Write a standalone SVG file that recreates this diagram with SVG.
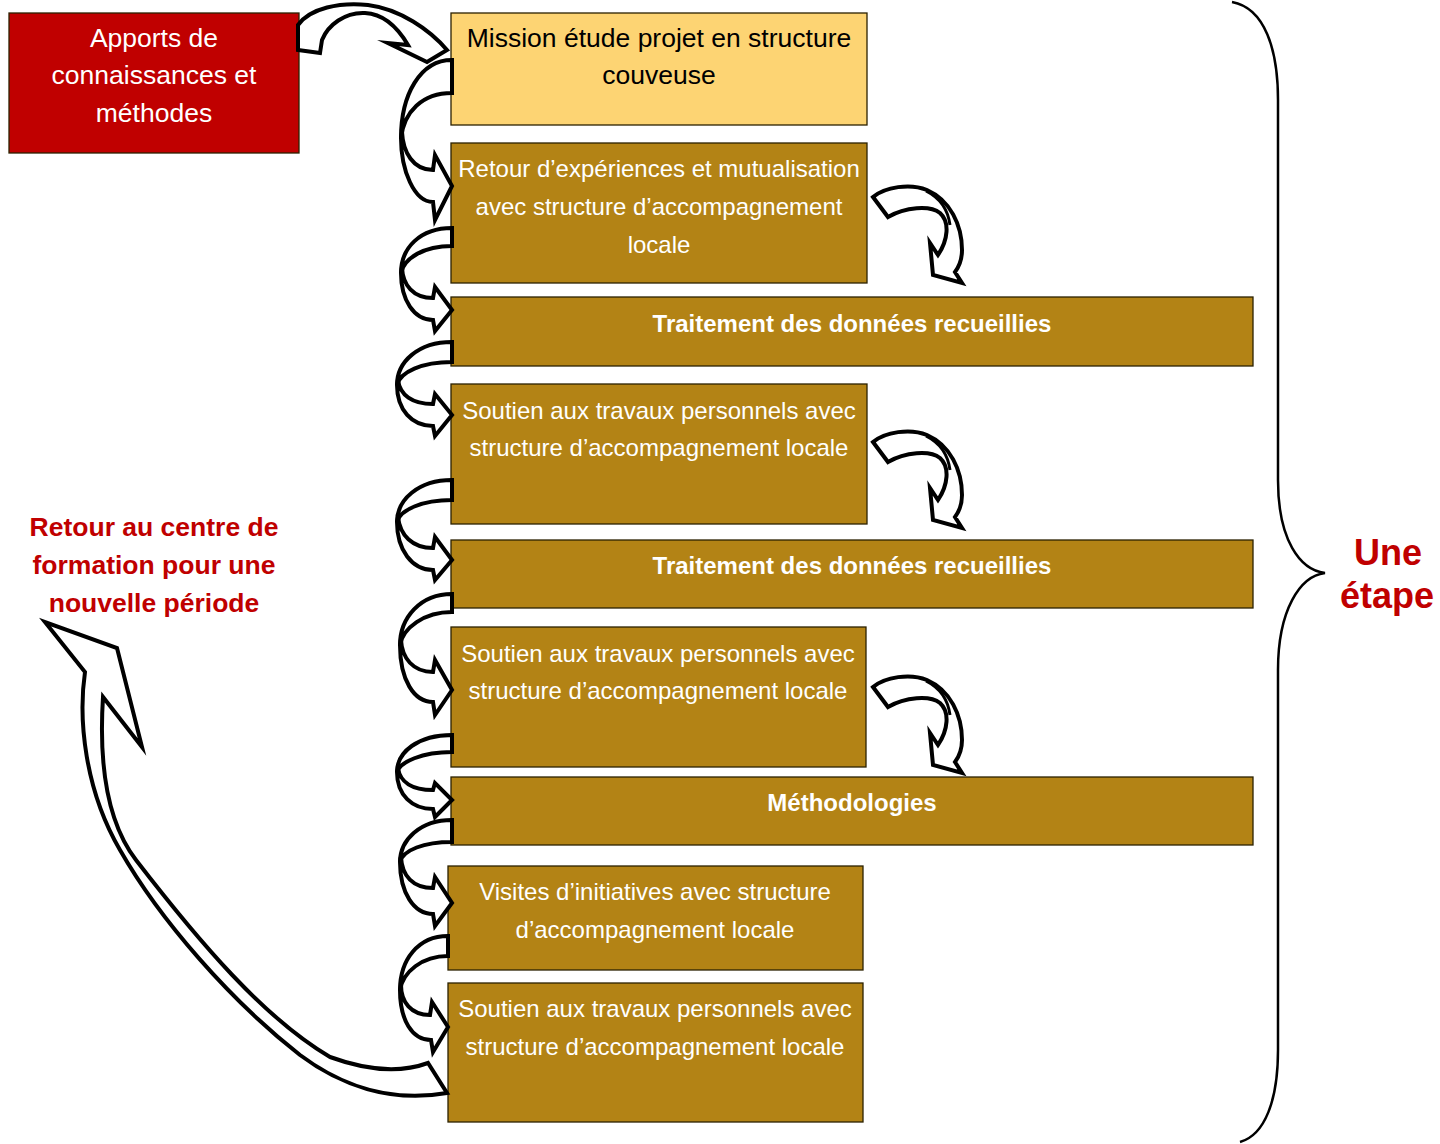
<svg xmlns="http://www.w3.org/2000/svg" width="1440" height="1144" viewBox="0 0 1440 1144">
<style>
.box{stroke:#2b2100;stroke-width:1.3}
.red{fill:#C00000}
.light{fill:#FDD473}
.gold{fill:#B38315}
.t{font-family:"Liberation Sans",Arial,sans-serif;text-anchor:middle}
.w{fill:#ffffff;font-size:24px}
.big{font-size:26.5px}
.b{font-weight:bold}
.k{fill:#000000}
.rt{fill:#C00000;font-weight:bold}
.arr path{fill:#ffffff;stroke:#000000;stroke-width:4;stroke-linejoin:miter;stroke-miterlimit:6}
.ln{fill:none;stroke:#000000;stroke-width:3}
</style>
<rect width="1440" height="1144" fill="#ffffff"/>

<g id="apports">
<rect class="box red" x="9" y="13" width="290" height="140"/>
<text class="t w big" x="154" y="46.5">Apports de</text>
<text class="t w big" x="154" y="83.5">connaissances et</text>
<text class="t w big" x="154" y="121.5">méthodes</text>
</g>
<g id="mission">
<rect class="box light" x="451" y="13" width="416" height="112"/>
<text class="t k big" x="659" y="46.5">Mission étude projet en structure</text>
<text class="t k big" x="659" y="83.5">couveuse</text>
</g>
<g id="retour">
<rect class="box gold" x="451" y="143" width="416" height="140"/>
<text class="t w" x="659" y="176.5">Retour d’expériences et mutualisation</text>
<text class="t w" x="659" y="214.5">avec structure d’accompagnement</text>
<text class="t w" x="659" y="252.5">locale</text>
</g>
<g id="traitement1">
<rect class="box gold" x="451" y="297" width="802" height="69"/>
<text class="t w b" x="852" y="331.5">Traitement des données recueillies</text>
</g>
<g id="soutien1">
<rect class="box gold" x="451" y="384" width="416" height="140"/>
<text class="t w" x="659" y="418.5">Soutien aux travaux personnels avec</text>
<text class="t w" x="659" y="455.5">structure d’accompagnement locale</text>
</g>
<g id="traitement2">
<rect class="box gold" x="451" y="540" width="802" height="68"/>
<text class="t w b" x="852" y="573.5">Traitement des données recueillies</text>
</g>
<g id="soutien2">
<rect class="box gold" x="451" y="627" width="415" height="140"/>
<text class="t w" x="658" y="661.5">Soutien aux travaux personnels avec</text>
<text class="t w" x="658" y="698.5">structure d’accompagnement locale</text>
</g>
<g id="methodologies">
<rect class="box gold" x="451" y="777" width="802" height="68"/>
<text class="t w b" x="852" y="810.5">Méthodologies</text>
</g>
<g id="visites">
<rect class="box gold" x="448" y="866" width="415" height="104"/>
<text class="t w" x="655" y="899.5">Visites d’initiatives avec structure</text>
<text class="t w" x="655" y="937.5">d’accompagnement locale</text>
</g>
<g id="soutien3">
<rect class="box gold" x="448" y="983" width="415" height="139"/>
<text class="t w" x="655" y="1016.5">Soutien aux travaux personnels avec</text>
<text class="t w" x="655" y="1054.5">structure d’accompagnement locale</text>
</g>

<g id="retour-label">
<text class="t rt big" x="154" y="535.5">Retour au centre de</text>
<text class="t rt big" x="154" y="573.5">formation pour une</text>
<text class="t rt big" x="154" y="611.5">nouvelle période</text>
</g>
<g id="etape-label">
<text class="t rt" style="font-size:36px" x="1388" y="565">Une</text>
<text class="t rt" style="font-size:36px" x="1387" y="608">étape</text>
</g>

<g id="connectors">
<g class="arr">
<path d="M298,25 C310,8 340,2 368,5 C400,9 430,30 447,50 L427,62 L388,43 L408,45 C398,28 385,14 365,13 C345,12 328,25 322,40 L320,53 L298,50 Z"/>
<path d="M452,60 C420,60 401,95 401,138 C404,112 422,93 452,93 Z"/>
<path d="M401,138 C401,170 414,202 433,202 L435,220 L452,186 L435,155 L433,170 C413,170 403,152 402,132 Z"/>
<path d="M452,228 C420,228 401,248 401,273 C404,258 424,246 452,246 Z"/>
<path d="M401,273 C401,300 414,320 433,320 L435,331 L452,310 L435,287 L433,298 C413,298 403,285 402,268 Z"/>
<path d="M452,342 C418,342 397,362 397,385 C400,372 422,362 452,362 Z"/>
<path d="M397,385 C397,410 412,426 433,426 L435,436 L452,415 L435,394 L433,404 C412,404 400,395 398,380 Z"/>
<path d="M452,480 C418,480 397,500 397,522 C400,510 422,500 452,500 Z"/>
<path d="M397,522 C397,550 412,570 433,570 L435,580 L452,560 L435,537 L433,548 C412,548 400,535 398,517 Z"/>
<path d="M452,594 C420,594 400,618 400,645 C403,628 424,612 452,612 Z"/>
<path d="M400,645 C400,680 414,702 433,702 L435,715 L452,690 L435,660 L433,672 C413,672 402,658 401,640 Z"/>
<path d="M452,735 C418,735 397,752 397,772 C400,762 422,752 452,752 Z"/>
<path d="M397,772 C397,795 412,809 433,809 L435,817 L452,800 L435,783 L433,790 C412,790 400,782 398,768 Z"/>
<path d="M452,820 C420,820 400,840 400,862 C403,850 424,842 452,842 Z"/>
<path d="M400,862 C400,893 414,914 433,914 L435,926 L452,903 L435,877 L433,888 C413,888 402,876 401,857 Z"/>
<path d="M448,936 C418,936 400,960 400,990 C403,972 422,956 448,956 Z"/>
<path d="M400,990 C400,1020 412,1040 431,1040 L433,1052 L448,1027 L432,1002 L430,1015 C411,1015 401,1002 401,985 Z"/>
<path d="M873,197 C885,187 910,183 927,190 C950,200 962,225 962,250 C962,262 958,268 955,272 L962,283 L933,275 L930,243 L938,255 C948,240 950,222 940,213 C930,205 905,207 888,217 Z"/>
<path d="M873,442 C885,432 910,428 927,435 C950,445 962,470 962,495 C962,507 958,513 955,517 L962,528 L933,520 L930,488 L938,500 C948,485 950,467 940,458 C930,450 905,452 888,462 Z"/>
<path d="M873,687 C885,677 910,673 927,680 C950,690 962,715 962,740 C962,752 958,758 955,762 L962,773 L933,765 L930,733 L938,745 C948,730 950,712 940,703 C930,695 905,697 888,707 Z"/>
<path d="M85,672 C78,720 85,790 120,850 C160,920 230,1000 300,1055 C340,1085 390,1103 447,1093 L428,1063 C395,1075 360,1068 330,1057 C264,1018 200,943 136,860 C106,821 99,760 103,697 L142,747 L117,648 L45,622 Z"/>
</g>
<path class="ln" d="M926,191 C940,198 948,210 950,225"/>
<path class="ln" d="M926,436 C940,443 948,455 950,470"/>
<path class="ln" d="M926,681 C940,688 948,700 950,715"/>
</g>

<g id="brace">
<path d="M1232,2 C1265,8 1278,50 1278,100 L1278,480 C1278,540 1300,570 1325,573 C1300,576 1278,610 1278,670 L1278,1050 C1278,1100 1265,1135 1240,1142" fill="none" stroke="#000" stroke-width="2.5"/>
</g>
</svg>
